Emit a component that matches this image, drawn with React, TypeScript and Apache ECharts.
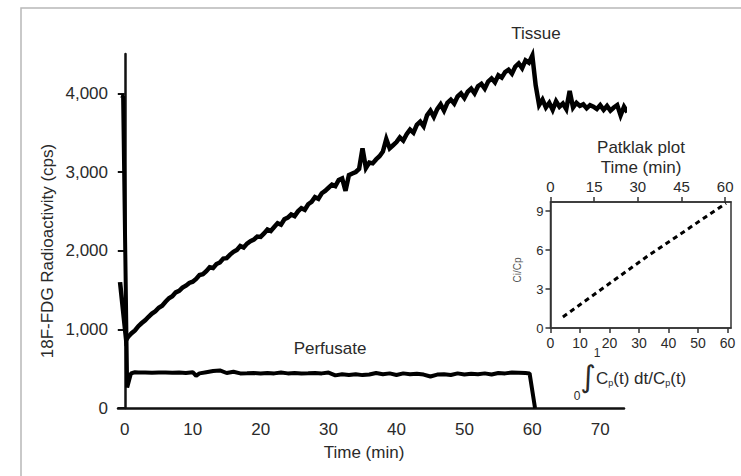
import React, { useEffect, useRef } from "react";
import * as echarts from "echarts";

// ---- Data ----
// Tissue curve [time (min), cps]
const tissue: [number, number][] = [
  [-0.7, 1600], [0.2, 865], [0.5, 905], [1, 950], [1.5, 985], [2, 1040], [2.5, 1080], [3, 1115], [3.5, 1160],
  [4, 1200], [4.5, 1230], [5, 1275], [5.5, 1300], [6, 1350], [6.5, 1395], [7, 1420], [7.5, 1470], [8, 1490],
  [8.5, 1530], [9, 1555], [9.5, 1590], [10, 1605], [10.5, 1640], [11, 1690], [11.5, 1700], [12, 1740],
  [12.5, 1790], [13, 1780], [13.5, 1830], [14, 1850], [14.5, 1900], [15, 1905], [15.5, 1950], [16, 1985],
  [16.5, 2010], [17, 2060], [17.5, 2040], [18, 2090], [18.5, 2120], [19, 2140], [19.5, 2180], [20, 2175],
  [20.5, 2220], [21, 2270], [21.5, 2250], [22, 2300], [22.5, 2350], [23, 2330], [23.5, 2400], [24, 2420],
  [24.5, 2460], [25, 2440], [25.5, 2500], [26, 2540], [26.5, 2520], [27, 2590], [27.5, 2620], [28, 2680],
  [28.5, 2660], [29, 2730], [29.5, 2760], [30, 2800], [30.5, 2840], [31, 2820], [31.5, 2900], [32, 2920],
  [32.5, 2760], [33, 2960], [33.5, 2980], [34, 3000], [34.5, 3040], [35, 3300], [35.5, 3050], [36, 3120],
  [36.5, 3110], [37, 3160], [37.5, 3200], [38, 3260], [38.5, 3420], [39, 3300], [39.5, 3340], [40, 3380],
  [40.5, 3440], [41, 3400], [41.5, 3480], [42, 3540], [42.5, 3500], [43, 3600], [43.5, 3640], [44, 3580],
  [44.5, 3720], [45, 3780], [45.5, 3700], [46, 3800], [46.5, 3860], [47, 3780], [47.5, 3880], [48, 3920],
  [48.5, 3870], [49, 3960], [49.5, 4000], [50, 3940], [50.5, 4020], [51, 4060], [51.5, 4000], [52, 4090],
  [52.5, 4120], [53, 4060], [53.5, 4150], [54, 4190], [54.5, 4140], [55, 4230], [55.5, 4200], [56, 4270],
  [56.5, 4300], [57, 4250], [57.5, 4340], [58, 4380], [58.5, 4320], [59, 4420], [59.5, 4390], [60, 4480],
  [60.5, 4100], [61, 3850], [61.5, 3920], [62, 3820], [62.5, 3880], [63, 3790], [63.5, 3900], [64, 3830],
  [64.5, 3870], [65, 3800], [65.5, 4030], [66, 3820], [66.5, 3880], [67, 3840], [67.5, 3860], [68, 3810],
  [68.5, 3850], [69, 3830], [69.5, 3800], [70, 3850], [70.5, 3790], [71, 3840], [71.5, 3780], [72, 3820],
  [72.5, 3850], [73, 3720], [73.5, 3830], [74, 3760],
];

// Perfusate curve [time (min), cps]
const perfusate: [number, number][] = [
  [-0.55, 3970], [-0.25, 3960], [0.35, 260], [0.9, 440], [1.5, 455], [2, 450], [3, 452], [4, 448],
  [5, 450], [6, 452], [7, 447], [8, 450], [9, 445], [10, 455], [10.5, 410], [11, 440], [12, 455], [13, 470],
  [14, 478], [15, 445], [16, 460], [17, 440], [18, 442], [19, 445], [20, 438], [21, 445], [22, 440],
  [23, 450], [24, 440], [25, 445], [26, 440], [27, 442], [28, 445], [29, 440], [30, 450], [31, 415],
  [32, 428], [33, 420], [34, 430], [35, 418], [36, 425], [37, 445], [38, 430], [39, 440], [40, 420],
  [41, 440], [42, 430], [43, 435], [44, 425], [45, 400], [46, 425], [47, 430], [48, 420], [49, 440],
  [50, 425], [51, 435], [52, 430], [53, 440], [54, 425], [55, 445], [56, 440], [57, 450], [58, 448],
  [59, 445], [59.6, 440], [60.4, 0],
];

// Patlak plot [integral Cp dt / Cp, Ci/Cp]
const patlak: [number, number][] = [[4.2, 0.85], [32.7, 5.5], [59.5, 9.6]];

const mainXTicks = [0, 10, 20, 30, 40, 50, 60, 70];
const mainYTicks = [0, 1000, 2000, 3000, 4000];
const insetXTicks = [0, 10, 20, 30, 40, 50, 60];
const insetTopTicks = [0, 15, 30, 45, 60];
const insetYTicks = [0, 3, 6, 9];

const FONT = "'Liberation Sans', Arial, Helvetica, sans-serif";
const TXT = "#2a2a2a";

export default function App() {
  const ref = useRef<HTMLDivElement>(null);
  useEffect(() => {
    if (!ref.current) return;
    const chart = echarts.init(ref.current, undefined, { renderer: "svg" });
    const lbl = (t: string, x: number, y: number, size: number, extra: any = {}) => ({
      type: "text",
      x,
      y,
      ...extra,
      style: {
        text: t,
        fontSize: size,
        fontFamily: FONT,
        fill: TXT,
        textAlign: "center",
        textVerticalAlign: "middle",
        ...(extra.style || {}),
      },
    });
    chart.setOption({
      animation: false,
      backgroundColor: "#ffffff",
      grid: [
        { left: 118, top: 54, right: 117, bottom: 68, outerBoundsMode: "none" },
        {
          left: 550.5, top: 202, right: 10, bottom: 148, outerBoundsMode: "none",
          show: true, borderColor: "#333", borderWidth: 1.5, backgroundColor: "transparent",
        },
      ],
      xAxis: [
        {
          type: "value", gridIndex: 0, min: -1, max: 73.5,
          axisLine: { show: true, lineStyle: { color: "#111", width: 2.5 } },
          axisTick: { show: false },
          splitLine: { show: false },
          axisLabel: { customValues: mainXTicks, fontSize: 17, fontFamily: FONT, color: TXT, margin: 13 },
        },
        {
          type: "value", gridIndex: 1, min: 0, max: 61.2, position: "bottom",
          axisLine: { show: true, lineStyle: { color: "#333", width: 1.5 } },
          axisTick: { show: true, customValues: insetXTicks, length: 5, lineStyle: { color: "#333", width: 1.5 } },
          splitLine: { show: false },
          axisLabel: { customValues: insetXTicks, fontSize: 14, fontFamily: FONT, color: TXT, margin: 8 },
        },
        {
          type: "value", gridIndex: 1, min: 0, max: 62, position: "top",
          axisLine: { show: true, lineStyle: { color: "#333", width: 1.5 } },
          axisTick: { show: true, customValues: insetTopTicks, length: 5, lineStyle: { color: "#333", width: 1.5 } },
          splitLine: { show: false },
          axisLabel: { customValues: insetTopTicks, fontSize: 15, fontFamily: FONT, color: TXT, margin: 8 },
        },
      ],
      yAxis: [
        {
          type: "value", gridIndex: 0, min: 0, max: 4500,
          axisLine: { show: true, lineStyle: { color: "#111", width: 2.5 } },
          axisTick: { show: true, customValues: mainYTicks, length: 7, lineStyle: { color: "#111", width: 2 } },
          splitLine: { show: false },
          axisLabel: {
            customValues: mainYTicks, fontSize: 17, fontFamily: FONT, color: TXT, margin: 10,
            formatter: (v: number) => v.toLocaleString("en-US"),
          },
        },
        {
          type: "value", gridIndex: 1, min: 0, max: 9.7,
          axisLine: { show: true, lineStyle: { color: "#333", width: 1.5 } },
          axisTick: { show: true, customValues: insetYTicks, length: 5, lineStyle: { color: "#333", width: 1.5 } },
          splitLine: { show: false },
          axisLabel: { customValues: insetYTicks, fontSize: 13, fontFamily: FONT, color: TXT, margin: 7 },
        },
      ],
      series: [
        {
          type: "line", name: "Tissue", xAxisIndex: 0, yAxisIndex: 0, data: tissue,
          showSymbol: false, symbol: "none", clip: false,
          lineStyle: { color: "#000", width: 4.5, join: "miter" },
        },
        {
          type: "line", name: "Perfusate", xAxisIndex: 0, yAxisIndex: 0, data: perfusate,
          showSymbol: false, symbol: "none", clip: false,
          lineStyle: { color: "#000", width: 4 },
        },
        {
          type: "line", name: "Patlak", xAxisIndex: 1, yAxisIndex: 1, data: patlak,
          showSymbol: false, symbol: "none",
          lineStyle: { color: "#000", width: 3, type: [5, 4] },
        },
      ],
      graphic: [
        {
          type: "rect", z: -1, silent: true,
          shape: { x: 21, y: 8, width: 800, height: 600 },
          style: { fill: "none", stroke: "#b8b8b8", lineWidth: 1.5 },
        },
        lbl("18F-FDG Radioactivity (cps)", 47, 251, 17, { rotation: Math.PI / 2 }),
        lbl("Time (min)", 364, 452, 17),
        lbl("Tissue", 536, 33, 17),
        lbl("Perfusate", 330, 348, 17),
        lbl("Patklak plot", 641, 147, 17),
        lbl("Time (min)", 641, 167, 17),
        lbl("Ci/Cp", 517, 270, 10, { rotation: Math.PI / 2, style: { fill: "#555" } }),
        {
          type: "text", x: 588, y: 376,
          style: { text: "∫", fontSize: 30, fontFamily: "'DejaVu Sans', sans-serif", fill: TXT, textAlign: "center", textVerticalAlign: "middle" },
        },
        lbl("1", 597, 353, 12),
        lbl("0", 577, 396, 12),
        {
          type: "text", x: 596, y: 378,
          style: {
            text: "C{s|p}(t) dt/C{s|p}(t)",
            fontSize: 17, fontFamily: FONT, fill: TXT, textAlign: "left", textVerticalAlign: "middle",
            rich: { s: { fontSize: 9, fontFamily: FONT, fill: TXT, padding: [9, 0, 0, 0] } },
          },
        },
      ],
    });
    return () => chart.dispose();
  }, []);
  return (
    <div
      ref={ref}
      style={{ position: "fixed", left: 0, top: 0, width: 741, height: 476, background: "#fff" }}
    />
  );
}
